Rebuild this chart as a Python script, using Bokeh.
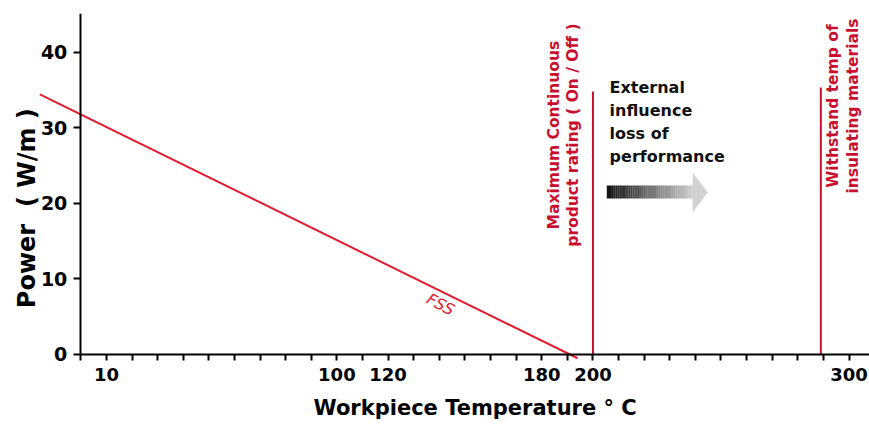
from bokeh.plotting import figure
from bokeh.models import FixedTicker, Range1d, Title
from bokeh.core.properties import value
from bokeh.embed import file_html
from bokeh.resources import INLINE
import numpy as np

# ---------------- data ----------------
TEMP_TICKS = list(range(0, 310, 10))
TEMP_LABEL_AT = [10, 100, 120, 180, 200, 300]
TEMP_LABELS = ["10", "100", "120", "180", "200", "300"]
POWER_TICKS = [0, 10, 20, 30, 40]
POWER_LABELS = ["0", "10", "20", "30", "40"]

FSS_TEMP = [-16, 194]
FSS_POWER = [34.4, -0.5]
FSS_NAME = "FSS"

LIMIT_TEMP = [200, 289]
LIMIT_TOP = [34.8, 35.3]
LIMIT_TEXT = ["Maximum Continuous\nproduct rating ( On / Off )",
              "Withstand temp of\ninsulating materials"]

NOTE_TEXT = "External\ninfluence\nloss of\nperformance"

X_TITLE = "Workpiece Temperature\u00a0\u00b0\u00a0C"
Y_TITLE = "Power\u00a0\u00a0( W/m )"

# ---------------- styling / placement ----------------
RED_LINE = "#e31b2f"
RED_MARK = "#c8102e"
FONT = "DejaVu Sans"

X_START, X_END = -27.46, 308
Y_START, Y_END = -5.16, 45.1

p = figure(width=869, height=425, x_range=Range1d(X_START, X_END),
           y_range=Range1d(Y_START, Y_END),
           output_backend="svg", toolbar_location=None,
           min_border_left=10, min_border_right=0, min_border_top=13, min_border_bottom=32)
p.outline_line_color = None
p.xgrid.visible = False
p.ygrid.visible = False
p.background_fill_color = "white"

# x axis, drawn at power = 0 (tick labels drawn as text below)
xa = p.xaxis[0]
xa.fixed_location = 0
xa.bounds = (0, X_END)
xa.ticker = FixedTicker(ticks=TEMP_TICKS)
xa.major_label_overrides = {t: "" for t in TEMP_TICKS}
xa.major_label_text_font_size = "1px"
xa.major_label_standoff = 0
xa.minor_tick_line_color = None
xa.major_tick_in = 0
xa.major_tick_out = 6
xa.axis_line_width = 2
xa.major_tick_line_width = 2
xa.axis_line_color = "black"
xa.major_tick_line_color = "black"

# x title (below the axis)
p.add_layout(Title(text=X_TITLE, align="left", offset=303, standoff=0,
                   text_font=FONT, text_font_size="21px", text_font_style="bold",
                   text_color="black"), "below")

# y axis, drawn at temperature = 0
ya = p.yaxis[0]
ya.fixed_location = 0
ya.bounds = (0, Y_END)
ya.ticker = FixedTicker(ticks=POWER_TICKS)
ya.major_label_overrides = {t: "" for t in POWER_TICKS}
ya.major_label_text_font_size = "1px"
ya.minor_tick_line_color = None
ya.major_tick_in = 0
ya.major_tick_out = 7
ya.axis_line_width = 2
ya.major_tick_line_width = 2
ya.axis_line_color = "black"
ya.major_tick_line_color = "black"
ya.major_label_standoff = 0

# tick labels and y title
p.text(x=TEMP_LABEL_AT, y=[0] * len(TEMP_LABEL_AT), text=TEMP_LABELS, y_offset=14,
       text_font=value(FONT), text_font_size="18px", text_font_style="bold",
       text_color="black", text_align="center", text_baseline="top")
p.text(x=[0] * len(POWER_TICKS), y=POWER_TICKS, text=POWER_LABELS, x_offset=-13.5,
       text_font=value(FONT), text_font_size="19px", text_font_style="bold",
       text_color="black", text_align="right", text_baseline="middle")
p.text(x=[-21.2], y=[19.35], text=[Y_TITLE], angle=np.pi / 2,
       text_font=value(FONT), text_font_size="24px", text_font_style="bold",
       text_color="black", text_align="center", text_baseline="middle")

# FSS line
p.line(x=FSS_TEMP, y=FSS_POWER, line_color=RED_LINE, line_width=2)

# FSS label under the line
fx = 140.5
fy = FSS_POWER[0] + (FSS_POWER[1] - FSS_POWER[0]) * (fx - FSS_TEMP[0]) / (FSS_TEMP[1] - FSS_TEMP[0])
p.text(x=[fx], y=[fy - 1.75], text=[FSS_NAME], angle=-0.48,
       text_font=value(FONT), text_font_size="16px", text_font_style="italic",
       text_color=RED_LINE, text_align="center", text_baseline="middle")

# limit lines
p.segment(x0=LIMIT_TEMP, y0=[0, 0], x1=LIMIT_TEMP, y1=LIMIT_TOP,
          line_color=RED_MARK, line_width=2)

# limit labels (rotated)
p.text(x=[188.5, 297.5], y=[29.02, 32.86], text=LIMIT_TEXT, angle=np.pi / 2,
       text_font=value(FONT), text_font_size="15.5px", text_font_style="bold",
       text_color=RED_MARK, text_align="center", text_baseline="middle",
       text_line_height=1.1)

# note text
p.text(x=[206.5], y=[36.58], text=[NOTE_TEXT],
       text_font=value(FONT), text_font_size="16px", text_font_style="bold",
       text_color="#111111", text_align="left", text_baseline="top",
       text_line_height=1.22)

# gradient arrow (stepped shading)
ax0, ax1, ahead = 205.4, 238.9, 244.8
ay_lo, ay_hi = 20.63, 22.35
hy_lo, hy_hi = 18.78, 24.07
n = 40
edges = np.linspace(ax0, ax1, n + 1)
shade = np.linspace(0.08, 0.80, n)
cols = ["#{0:02x}{0:02x}{0:02x}".format(int(s * 255)) for s in shade]
p.quad(left=edges[:-1], right=edges[1:] + 0.05, bottom=ay_lo, top=ay_hi,
       fill_color=cols, line_color=None)
p.patch(x=[ax1, ahead, ax1], y=[hy_hi, (hy_hi + hy_lo) / 2, hy_lo],
        fill_color="#d2d2d2", line_color=None)

open("out.html", "w").write(file_html(p, INLINE))
